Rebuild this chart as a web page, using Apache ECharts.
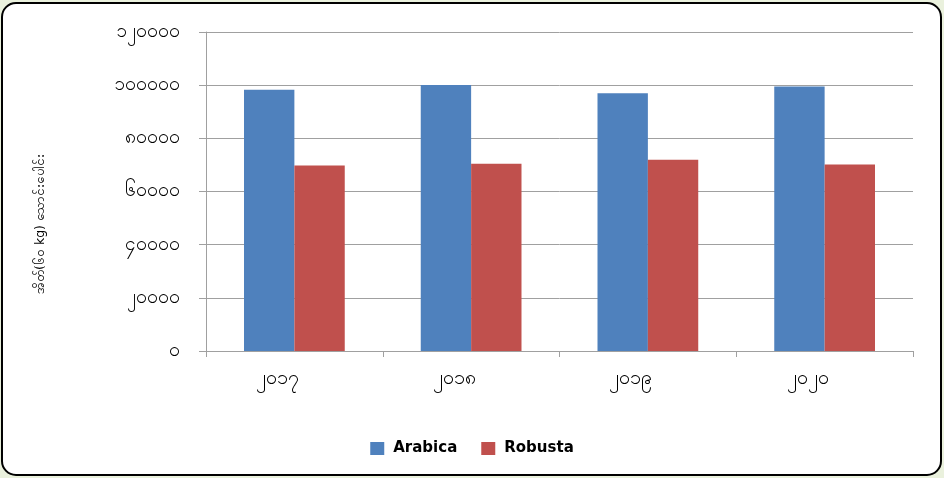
<!DOCTYPE html>
<html><head><meta charset="utf-8">
<script src="https://cdn.jsdelivr.net/npm/echarts@6/dist/echarts.min.js"></script>
<style>html,body{margin:0;padding:0;background:#eaf1dd;}#c{width:944px;height:478px;}</style>
</head><body><div id="c"></div>
<script>
const categories = ['၂၀၁၇', '၂၀၁၈', '၂၀၁၉', '၂၀၂၀'];
const arabica = [98300, 100100, 97000, 99500];
const robusta = [69800, 70400, 71900, 70200];
const yTickLabels = ['၀', '၂၀၀၀၀', '၄၀၀၀၀', '၆၀၀၀၀', '၈၀၀၀၀', '၁၀၀၀၀၀', '၁၂၀၀၀၀'];
const yAxisTitle = 'အိတ်(၆၀ kg) သောင်းပေါင်း';
const seriesNames = ['Arabica', 'Robusta'];

const chart = echarts.init(document.getElementById('c'), null, {renderer: 'canvas'});
const fontFam = 'Tahoma, "DejaVu Sans", "Noto Sans", sans-serif';
chart.setOption({
  backgroundColor: '#eaf1dd',
  animation: false,
  graphic: [
    {type: 'rect', z: -10, shape: {x: 2, y: 3, width: 939, height: 472, r: 14},
     style: {fill: '#ffffff', stroke: '#000000', lineWidth: 2}},
    {type: 'text', x: 41, y: 224, rotation: Math.PI / 2,
     style: {text: yAxisTitle, font: '12.5px ' + fontFam, fill: '#000', align: 'center', verticalAlign: 'middle'}}
  ],
  grid: {left: 206, right: 31, top: 32, bottom: 127, containLabel: false},
  legend: {
    data: seriesNames, bottom: 17, left: 'center', itemWidth: 14, itemHeight: 13, itemGap: 24,
    icon: 'rect',
    textStyle: {fontSize: 15, fontWeight: 'bold', color: '#000', fontFamily: fontFam, padding: [0, 0, 0, 4]}
  },
  xAxis: {
    type: 'category', data: categories,
    axisLine: {lineStyle: {color: '#a0a0a0', width: 1}},
    axisTick: {show: true, alignWithLabel: false, length: 6, lineStyle: {color: '#a0a0a0'}},
    axisLabel: {margin: 18, fontSize: 20, color: '#000', fontFamily: fontFam, padding: [0, 34, 0, 0]}
  },
  yAxis: {
    type: 'value', min: 0, max: 120000, interval: 20000,
    axisLine: {show: true, lineStyle: {color: '#a0a0a0', width: 1}},
    axisTick: {show: true, inside: false, length: 7, lineStyle: {color: '#a0a0a0'}},
    splitLine: {lineStyle: {color: '#a0a0a0', width: 1}},
    axisLabel: {margin: 26, fontSize: 19, color: '#000', fontFamily: fontFam,
      formatter: (v) => yTickLabels[Math.round(v / 20000)]}
  },
  series: [
    {name: seriesNames[0], type: 'bar', data: arabica, barGap: '0%', barCategoryGap: '43%',
     itemStyle: {color: '#4f81bd'}},
    {name: seriesNames[1], type: 'bar', data: robusta, barGap: '0%', barCategoryGap: '43%',
     itemStyle: {color: '#c0504d'}}
  ]
});
</script></body></html>
